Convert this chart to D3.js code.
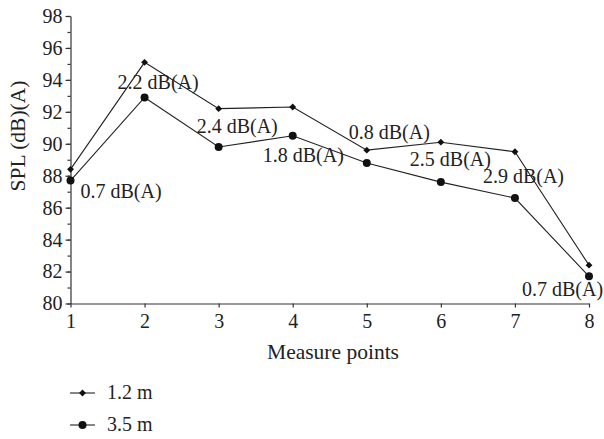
<!DOCTYPE html>
<html>
<head>
<meta charset="utf-8">
<script src="https://cdn.jsdelivr.net/npm/d3@7"></script>
<style>
  body { margin: 0; background: #fff; }
  text { font-family: "Liberation Serif", "Times New Roman", serif; fill: #222; }
  .axis path, .axis line { stroke: #333; stroke-width: 1.2; }
  .axis text { fill: #222; }
</style>
</head>
<body>
<svg class="chart" width="604" height="439"></svg>
<script>
var points = [1, 2, 3, 4, 5, 6, 7, 8];
var spl12 = [88.4, 95.1, 92.2, 92.3, 89.6, 90.1, 89.5, 82.4];
var spl35 = [87.7, 92.9, 89.8, 90.5, 88.8, 87.6, 86.6, 81.7];
var diffLabels = ["0.7 dB(A)", "2.2 dB(A)", "2.4 dB(A)", "1.8 dB(A)",
                  "0.8 dB(A)", "2.5 dB(A)", "2.9 dB(A)", "0.7 dB(A)"];
var yTicks = [80, 82, 84, 86, 88, 90, 92, 94, 96, 98];
var seriesNames = ["1.2 m", "3.5 m"];

// where each difference label sits, relative to the 3.5 m point (px)
var labelOffsets = [[10, 17], [-27, -8], [-22, -14], [-30, 26],
                    [-18, -24], [-31, -16], [-32, -15], [-67, 20]];

var fontSize = 20, titleSize = 21.5;
var plotLeft = 70.5, plotRight = 589, plotTop = 16, plotBottom = 303.5;

var x = d3.scaleLinear().domain([1, 8]).range([plotLeft, plotRight]);
var y = d3.scaleLinear().domain([80, 98]).range([plotBottom, plotTop]);

var svg = d3.select(".chart");

// minor ticks on y
svg.append("g")
    .attr("class", "axis")
    .attr("transform", "translate(" + plotLeft + ",0)")
    .call(d3.axisLeft(y).ticks(18).tickSize(3).tickFormat(""))
    .select(".domain").remove();

svg.append("g")
    .attr("class", "axis")
    .attr("transform", "translate(" + plotLeft + ",0)")
    .call(d3.axisLeft(y).tickValues(yTicks).tickSize(5).tickSizeOuter(0).tickPadding(3));

svg.append("g")
    .attr("class", "axis")
    .attr("transform", "translate(0," + plotBottom + ")")
    .call(d3.axisBottom(x).tickValues(points).tickFormat(d3.format("d")).tickSize(4).tickSizeOuter(0).tickPadding(6));

svg.selectAll(".axis text").attr("font-size", fontSize);

var line = d3.line()
    .x(function (d, i) { return x(points[i]); })
    .y(function (d) { return y(d); });

[spl12, spl35].forEach(function (s) {
    svg.append("path")
        .datum(s)
        .attr("d", line)
        .attr("fill", "none")
        .attr("stroke", "#222")
        .attr("stroke-width", 1.1);
});

var diamond = d3.symbol().type(d3.symbolDiamond2).size(30);

function drawDiamond(g, cx, cy) {
    g.append("path")
        .attr("d", diamond())
        .attr("transform", "translate(" + cx + "," + cy + ")")
        .attr("fill", "#111");
}

function drawCircle(g, cx, cy) {
    g.append("circle")
        .attr("cx", cx).attr("cy", cy).attr("r", 4)
        .attr("fill", "#111");
}

spl12.forEach(function (v, i) { drawDiamond(svg, x(points[i]), y(v)); });
spl35.forEach(function (v, i) { drawCircle(svg, x(points[i]), y(v)); });

svg.append("g").selectAll("text")
    .data(diffLabels)
    .enter().append("text")
    .attr("x", function (d, i) { return x(points[i]) + labelOffsets[i][0]; })
    .attr("y", function (d, i) { return y(spl35[i]) + labelOffsets[i][1]; })
    .attr("font-size", fontSize)
    .text(function (d) { return d; });

// axis titles
svg.append("text")
    .attr("transform", "translate(25,136) rotate(-90)")
    .attr("text-anchor", "middle")
    .attr("font-size", titleSize)
    .text("SPL (dB)(A)");

svg.append("text")
    .attr("x", 333)
    .attr("y", 359)
    .attr("text-anchor", "middle")
    .attr("font-size", titleSize)
    .text("Measure points");

// legend
var legend = svg.append("g");
seriesNames.forEach(function (name, i) {
    var ly = 393 + i * 32;
    legend.append("line")
        .attr("x1", 70).attr("x2", 95)
        .attr("y1", ly).attr("y2", ly)
        .attr("stroke", "#222").attr("stroke-width", 1.1);
    if (i === 0) drawDiamond(legend, 82.5, ly);
    else drawCircle(legend, 82.5, ly);
    legend.append("text")
        .attr("x", 107)
        .attr("y", ly + 6)
        .attr("font-size", fontSize)
        .text(name);
});
</script>
</body>
</html>
